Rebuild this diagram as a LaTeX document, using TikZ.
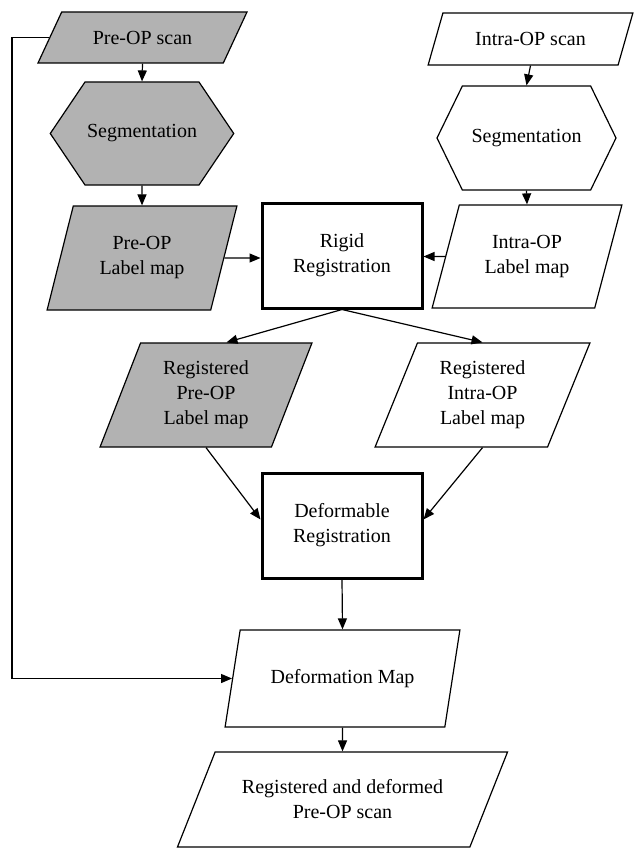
\documentclass[tikz,border=0pt]{standalone}
\usepackage{fontspec}
\setmainfont{Liberation Serif}
\usetikzlibrary{shapes.geometric,shapes.symbols,arrows.meta}

\begin{document}
\begin{tikzpicture}[x=1pt,y=-1pt,
  font=\fontsize{20}{25}\selectfont,
  every node/.style={draw, line width=1.2pt, align=center, inner sep=2pt},
  datashape/.style n args={4}{trapezium, trapezium left angle=#1, trapezium right angle=#2,
    trapezium stretches=true, minimum width=#3, minimum height=#4},
  hexshape/.style n args={3}{signal, signal to=west and east, signal pointer angle=#1,
    minimum width=#2, minimum height=#3},
  procbox/.style={rectangle, line width=3pt, minimum width=160pt, minimum height=105pt},
  pre/.style={fill=gray!60},
  arr/.style={-{Triangle[length=11pt,width=9pt]}, line width=1.2pt}]
\useasboundingbox (0,0) rectangle (634,848);
\coordinate (loopx) at (12,0);

\node[datashape={49}{131}{209pt}{51pt}, pre] (prescan) at (142.5,37.5) {Pre-OP scan};
\node[hexshape={112}{180pt}{103pt}, pre] (preseg) at (142,133.5) {Segmentation};
\node[datashape={70}{110}{190pt}{104pt}, pre] (prelabel) at (142,258) {Pre-OP\\Label map};

\node[datashape={61}{119}{205pt}{52pt}] (intrascan) at (530.5,39) {Intra-OP scan};
\node[hexshape={128}{179pt}{104pt}] (intraseg) at (526.5,138) {Segmentation};
\node[datashape={69}{111}{190pt}{103pt}] (intralabel) at (527,256.5) {Intra-OP\\Label map};

\node[procbox] (rigid) at (342,255.5) {Rigid\\Registration};

\node[datashape={69}{111}{212pt}{104pt}, pre] (regpre) at (206,395) {Registered\\Pre-OP\\Label map};
\node[datashape={68}{112}{215pt}{104pt}] (regintra) at (482.5,395) {Registered\\Intra-OP\\Label map};

\node[procbox] (deform) at (342,525.5) {Deformable\\Registration};
\node[datashape={64}{116}{235pt}{97pt}] (defmap) at (342.5,678.5) {Deformation Map};
\node[datashape={55}{125}{331pt}{95pt}] (result) at (342.5,799.5) {Registered and deformed\\Pre-OP scan};

\draw[arr] (prescan.south) -- (preseg.north);
\draw[arr] (preseg.south) -- (prelabel.north);
\draw[arr] (intrascan.south) -- (intraseg.north);
\draw[arr] (intraseg.south) -- (intralabel.north);
\draw[arr] (prelabel) -- (prelabel -| rigid.west);
\draw[arr] (intralabel) -- (intralabel -| rigid.east);
\draw[arr] (rigid.south) -- (regpre.top side);
\draw[arr] (rigid.south) -- (regintra.north);
\draw[arr] (regpre.south) -- ([yshift=6pt]deform.west);
\draw[arr] (regintra.south) -- ([yshift=6pt]deform.east);
\draw[arr] (deform.south) -- (defmap.north);
\draw[arr] (defmap.south) -- (result.north);
\draw[arr] (prescan.west) -| (loopx |- defmap.west) -- (defmap.west);
\end{tikzpicture}
\end{document}
